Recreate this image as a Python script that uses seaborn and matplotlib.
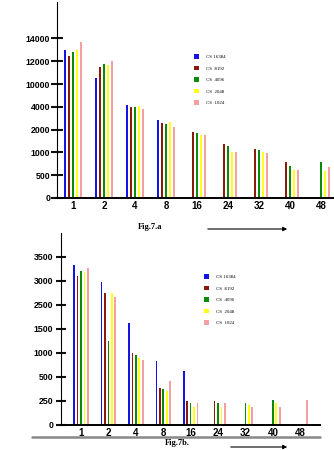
import numpy as np
import pandas as pd
import seaborn as sns
import matplotlib
matplotlib.use("Agg")
import matplotlib.pyplot as plt
from matplotlib.lines import Line2D

nan = np.nan

# categories and series
cores = ["1", "2", "4", "8", "16", "24", "32", "40", "48"]
series = ["CS 16384", "CS  8192", "CS  4096", "CS  2048", "CS  1024"]
colors = ["#1414E6", "#8B1A0A", "#0A8A0A", "#FFFF1A", "#F4A0A0"]

# Fig.7.a values
a_16384 = [12970, 10530, 4530, 2850, nan, nan, nan, nan, nan]
a_8192 = [12500, 11470, 4000, 2620, 1900, 1350, 1160, 800, nan]
a_4096 = [12820, 11800, 3980, 2500, 1850, 1280, 1100, 700, 780]
a_2048 = [12970, 11650, 4090, 2650, 1750, 1000, 1000, 620, 600]
a_1024 = [13700, 12030, 3790, 2240, 1750, 1000, 980, 620, 680]

# Fig.7b values
b_16384 = [3330, 2970, 1730, 835, 630, nan, nan, nan, nan]
b_8192 = [3100, 2750, 1000, 385, 250, 250, nan, nan, nan]
b_4096 = [3200, 1260, 950, 370, 225, 225, 232, 257, nan]
b_2048 = [3185, 2760, 900, 350, 190, 190, 205, 232, nan]
b_1024 = [3275, 2670, 850, 455, 232, 232, 190, 190, 257]

# the y axes of the original are not linear: tick labels sit at equal steps
ticks_a = [0, 500, 1000, 2000, 4000, 10000, 12000, 14000]
ticks_b = [0, 250, 500, 1000, 1500, 2500, 3000, 3500]


def to_long(cols):
    rows = []
    for name, vals in zip(series, cols):
        for c, v in zip(cores, vals):
            if not np.isnan(v):
                rows.append({"cores": c, "cs": name, "time": v})
    return pd.DataFrame(rows)


def index_scale(ticks):
    step = ticks[-1] - ticks[-2]
    t = np.array(ticks + [ticks[-1] + step, ticks[-1] + 2 * step], float)
    i = np.arange(len(t), dtype=float)
    fwd = lambda v: np.interp(v, t, i)
    inv = lambda v: np.interp(v, i, t)
    return fwd, inv


def panel(ax, df, ticks, ytop, xlim, tick_len, tick_pad, leg_xy):
    sns.barplot(data=df, x="cores", y="time", hue="cs", order=cores,
                hue_order=series, palette=colors, width=0.625, gap=0.5,
                errorbar=None, saturation=1, linewidth=0, edgecolor="none",
                ax=ax)
    fwd, inv = index_scale(ticks)
    ax.set_yscale("function", functions=(fwd, inv))
    ax.set_ylim(0, inv(ytop))
    ax.set_xlim(*xlim)
    ax.set_yticks(ticks)
    ax.set_yticklabels([str(t) for t in ticks])
    ax.set_xlabel("")
    ax.set_ylabel("")
    for s in ["top", "right"]:
        ax.spines[s].set_visible(False)
    ax.spines["bottom"].set_linewidth(1.4)
    ax.spines["left"].set_linewidth(0.8)
    ax.tick_params(axis="y", left=True, direction="inout", length=tick_len,
                   width=1.5, pad=tick_pad, labelsize=6.3, color="#111111")
    ax.tick_params(axis="x", bottom=False, length=0, pad=2.5, labelsize=7)
    for lab in ax.get_xticklabels() + ax.get_yticklabels():
        lab.set_fontweight("bold")
        lab.set_family("Liberation Sans")
    ax.legend(loc="upper left", bbox_to_anchor=leg_xy,
              bbox_transform=ax.figure.transFigure, frameon=False,
              borderpad=0, borderaxespad=0, handlelength=1.1,
              handleheight=1.1, labelspacing=1.35, handletextpad=1.4,
              prop={"family": "Liberation Serif", "size": 3.5})


sns.set_theme(style="ticks", rc={"axes.edgecolor": "black",
                                 "xtick.color": "black",
                                 "ytick.color": "black",
                                 "text.color": "black"})
plt.rcParams["font.family"] = ["Liberation Sans", "DejaVu Sans"]

fig = plt.figure(figsize=(3.34, 4.5), dpi=100)

ax1 = fig.add_axes([57 / 334, 1 - 198 / 450, 277 / 334, 196 / 450])
panel(ax1, to_long([a_16384, a_8192, a_4096, a_2048, a_1024]), ticks_a,
      8.6, (-0.52, 8.42), 8, 1, (194 / 334, 1 - 54 / 450))

ax2 = fig.add_axes([61 / 334, 1 - 425 / 450, 259 / 334, 192 / 450])
panel(ax2, to_long([b_16384, b_8192, b_4096, b_2048, b_1024]), ticks_b,
      8.0, (-0.73, 8.72), 7, 2, (204 / 334, 1 - 274 / 450))

# captions, arrows and the rule under the second chart
fig.text(150 / 334, 1 - 227 / 450, "Fig.7.a", ha="center", va="center",
         fontsize=6, weight="bold", family="Liberation Serif")
fig.text(177 / 334, 1 - 443 / 450, "Fig.7b.", ha="center", va="center",
         fontsize=6, weight="bold", family="Liberation Serif")
arrow = dict(arrowstyle="-|>", color="black", lw=0.8, mutation_scale=6)
ax1.annotate("", xy=(290 / 334, 1 - 229 / 450),
             xytext=(205 / 334, 1 - 229 / 450),
             xycoords="figure fraction", arrowprops=arrow)
ax2.annotate("", xy=(290 / 334, 1 - 447 / 450),
             xytext=(228 / 334, 1 - 447 / 450),
             xycoords="figure fraction", arrowprops=arrow)
fig.add_artist(Line2D([32 / 334, 320 / 334], [1 - 437 / 450, 1 - 437 / 450],
                      transform=fig.transFigure, color="#888888", lw=1.8))

fig.savefig("out.png", dpi=100)
